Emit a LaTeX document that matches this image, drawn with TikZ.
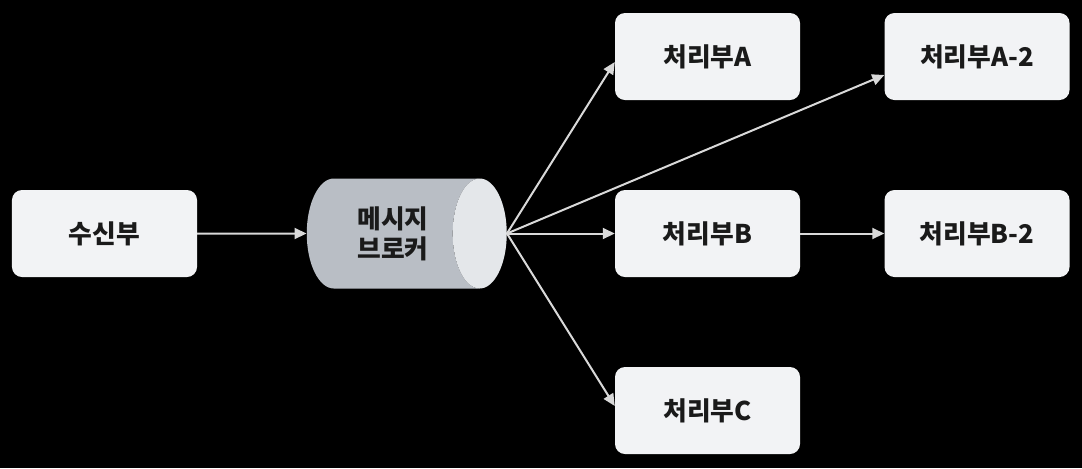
\documentclass[tikz,border=0pt]{standalone}
\usepackage{fontspec}
\usetikzlibrary{shapes.geometric, arrows.meta}
\newfontfamily\krfont{Noto Sans CJK KR}
\definecolor{boxfill}{HTML}{F2F3F5}
\definecolor{labeltext}{HTML}{1A1A1A}
\definecolor{cylbody}{HTML}{B9BEC5}
\definecolor{cylend}{HTML}{E4E7EA}
\definecolor{linkgray}{HTML}{D9D9D9}

\begin{document}
\begin{tikzpicture}[x=0.03cm, y=-0.03cm,
    box/.style={fill=boxfill, rounded corners=0.3cm, minimum width=5.55cm,
        minimum height=2.61cm, text=labeltext,
        font=\krfont\bfseries\fontsize{22}{26}\selectfont},
    broker/.style={shape=cylinder, aspect=1, minimum width=3.3cm, minimum height=6cm,
        cylinder uses custom fill, cylinder body fill=cylbody, cylinder end fill=cylend,
        text=labeltext, align=center, inner sep=0pt,
        font=\krfont\bfseries\fontsize{22}{25.5}\selectfont},
    link/.style={draw=linkgray, line width=0.06cm,
        -{Triangle[length=0.36cm, width=0.33cm]}}]
    \fill[black] (0,0) rectangle (1082,468);

    \node[box] (recv) at (104.5,233.5) {수신부};
    \node[broker, anchor=east] (mq) at (507,233.5) {메시지\\브로커};
    \node[box] (procA) at (707.5,56.5) {처리부A};
    \node[box] (procA2) at (977,56.5) {처리부A-2};
    \node[box] (procB) at (707.5,233.5) {처리부B};
    \node[box] (procB2) at (977,233.5) {처리부B-2};
    \node[box] (procC) at (707.5,410.5) {처리부C};

    \draw[link] (recv) -- (mq);
    \draw[link] (mq.east) -- ([yshift=-0.165cm]procA.west);
    \draw[link] (mq.east) -- ([yshift=-0.555cm]procA2.west);
    \draw[link] (mq.east) -- (procB);
    \draw[link] (mq.east) -- ([yshift=0.135cm]procC.west);
    \draw[link] (procB) -- (procB2);
\end{tikzpicture}
\end{document}
